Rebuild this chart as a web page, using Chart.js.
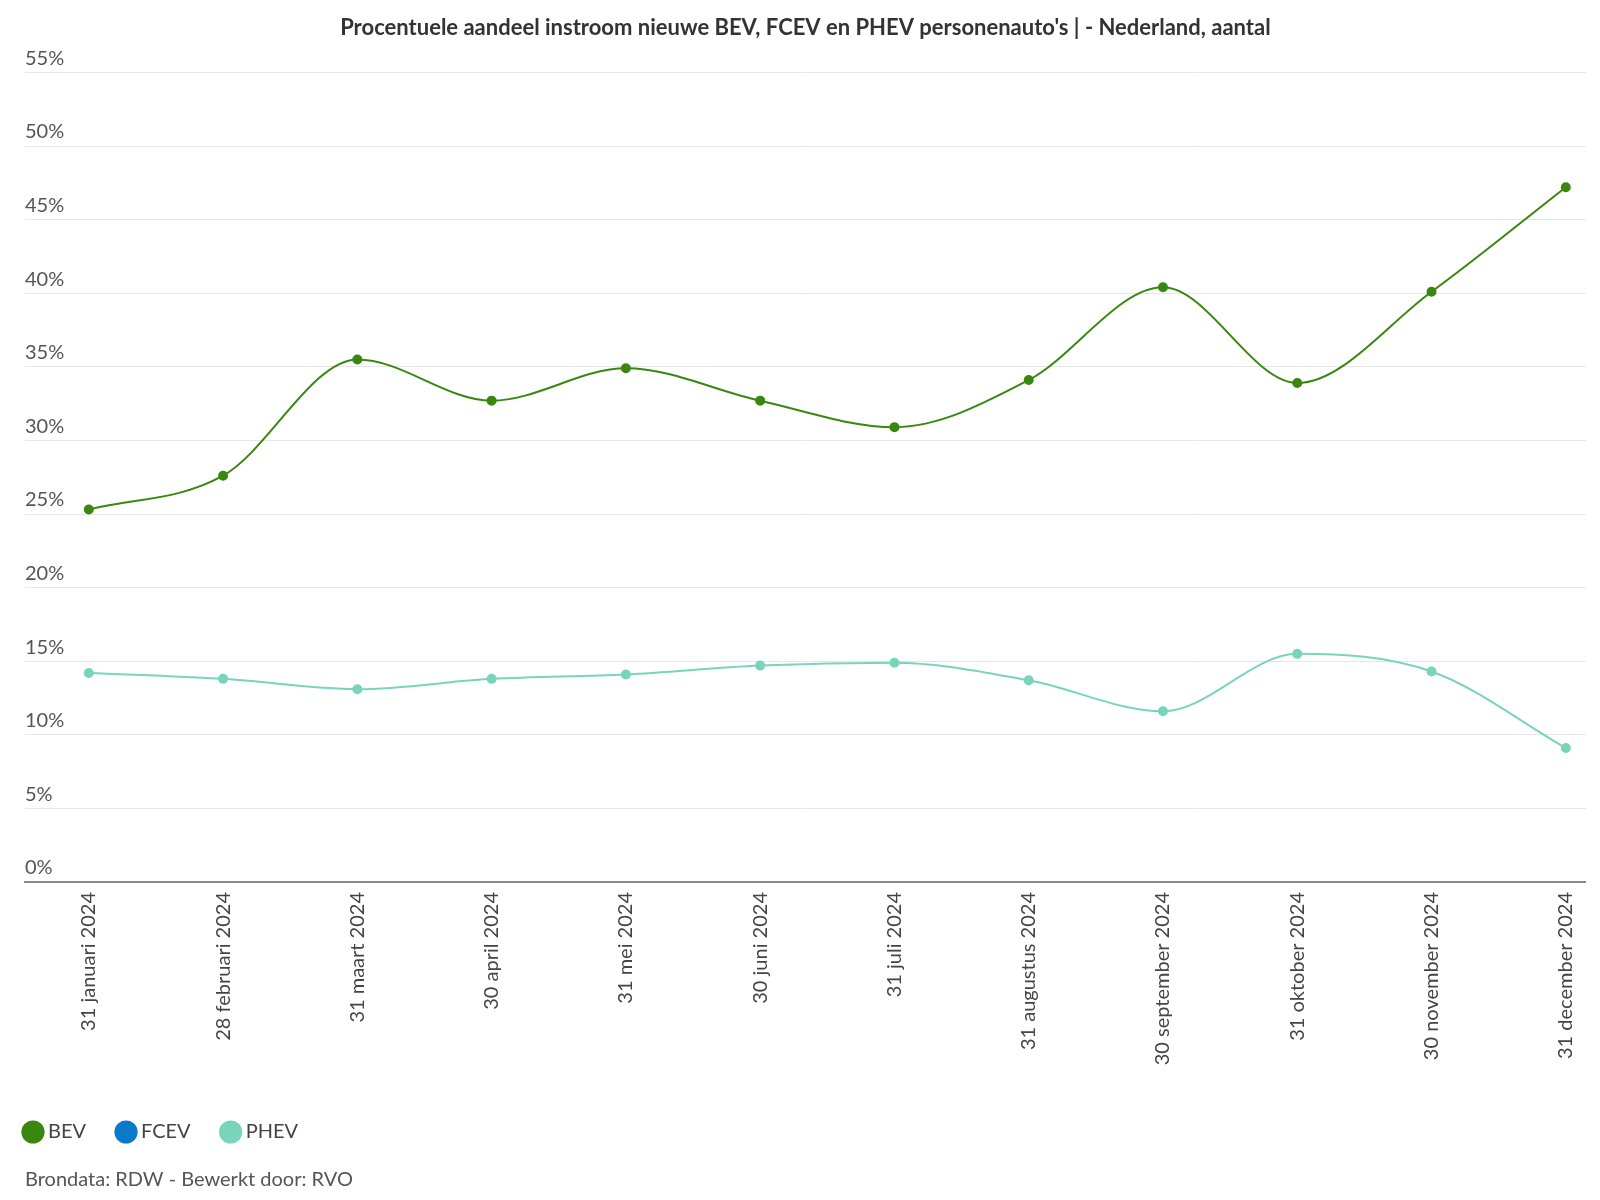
<!DOCTYPE html>
<html>
<head>
<meta charset="utf-8">
<title>Procentuele aandeel instroom nieuwe BEV, FCEV en PHEV personenauto's</title>
<script src="https://cdn.jsdelivr.net/npm/chart.js@4.4.1/dist/chart.umd.min.js"></script>
<style>
  html, body { margin: 0; padding: 0; background: #fff; }
  #wrap { position: relative; width: 1600px; height: 1200px; }
</style>
</head>
<body>
<div id="wrap"><canvas id="myChart"></canvas></div>
<script>
  // Month-end dates (x axis)
  var months = [
    "31 januari 2024", "28 februari 2024", "31 maart 2024", "30 april 2024",
    "31 mei 2024", "30 juni 2024", "31 juli 2024", "31 augustus 2024",
    "30 september 2024", "31 oktober 2024", "30 november 2024", "31 december 2024"
  ];

  // Share of new registrations, in %
  var bev = [25.3, 27.6, 35.5, 32.7, 34.9, 32.7, 30.9, 34.1, 40.4, 33.9, 40.1, 47.2];
  var fcev = [0, 0, 0, 0, 0, 0, 0, 0, 0, 0, 0, 0];
  var phev = [14.2, 13.8, 13.1, 13.8, 14.1, 14.7, 14.9, 13.7, 11.6, 15.5, 14.3, 9.1];

  var yTicks = [0, 5, 10, 15, 20, 25, 30, 35, 40, 45, 50, 55];

  var FONT = "Lato, 'Open Sans', sans-serif";

  function toPoints(arr) {
    return arr.map(function (v, i) { return { x: i, y: v }; });
  }

  function draw() {
    var ctx = document.getElementById("myChart").getContext("2d");

    new Chart(ctx, {
      type: "line",
      data: {
        datasets: [
          {
            label: "BEV",
            data: toPoints(bev),
            borderColor: "#3a8710",
            backgroundColor: "#3a8710",
            borderWidth: 2,
            pointRadius: 4,
            cubicInterpolationMode: "monotone",
          },
          {
            label: "FCEV",
            data: toPoints(fcev),
            borderColor: "#0a7acb",
            backgroundColor: "#0a7acb",
            borderWidth: 2,
            pointRadius: 0,
            cubicInterpolationMode: "monotone",
          },
          {
            label: "PHEV",
            data: toPoints(phev),
            borderColor: "#78d4ba",
            backgroundColor: "#78d4ba",
            borderWidth: 2,
            pointRadius: 4,
            cubicInterpolationMode: "monotone",
          },
        ],
      },
      options: {
        responsive: true,
        maintainAspectRatio: false,
        animation: false,
        layout: { padding: { left: -7, right: 8, top: 0, bottom: 0 } },
        plugins: {
          title: {
            display: true,
            fullSize: false,
            text: "Procentuele aandeel instroom nieuwe BEV, FCEV en PHEV personenauto's | - Nederland, aantal",
            color: "#333",
            font: { family: FONT, size: 22, weight: "bold" },
            padding: { top: 15, bottom: 31 },
          },
          subtitle: {
            display: true,
            fullSize: false,
            position: "bottom",
            align: "start",
            text: "Brondata: RDW - Bewerkt door: RVO",
            color: "#555",
            font: { family: FONT, size: 20 },
            padding: { top: 16, bottom: 8 },
          },
          legend: {
            position: "bottom",
            align: "start",
            labels: {
              usePointStyle: true,
              pointStyle: "circle",
              boxWidth: 10,
              boxHeight: 15,
              padding: 35,
              color: "#444",
              font: { family: FONT, size: 20 },
            },
          },
          tooltip: { enabled: false },
        },
        scales: {
          x: {
            type: "linear",
            min: -0.475,
            max: 11.149,
            afterFit: function (scale) { scale.height = 205; },
            grid: { display: false, drawTicks: false },
            // border on top of the datasets, so the 0% FCEV line sits under it
            border: { display: true, color: "#8a8a8a", width: 2, z: 1 },
            ticks: {
              stepSize: 1,
              includeBounds: false,
              autoSkip: false,
              minRotation: 90,
              maxRotation: 90,
              padding: 10,
              color: "#444",
              font: { family: FONT, size: 20 },
              callback: function (v) { return months[v] || ""; },
            },
          },
          y: {
            min: 0,
            max: 55,
            afterFit: function (scale) { scale.width = 32; },
            afterBuildTicks: function (scale) {
              scale.ticks = yTicks.map(function (v) { return { value: v }; });
            },
            grid: { color: "#e6e6e6", lineWidth: 1, drawTicks: false },
            border: { display: false },
            ticks: {
              mirror: true,
              padding: 0,
              labelOffset: -14,
              color: "#555",
              font: { family: FONT, size: 20 },
              callback: function (v) { return v + "%"; },
            },
          },
        },
      },
    });
  }

  Promise.all([
    document.fonts.load("20px Lato"),
    document.fonts.load("bold 22px Lato"),
  ]).then(draw, draw);
</script>
</body>
</html>
